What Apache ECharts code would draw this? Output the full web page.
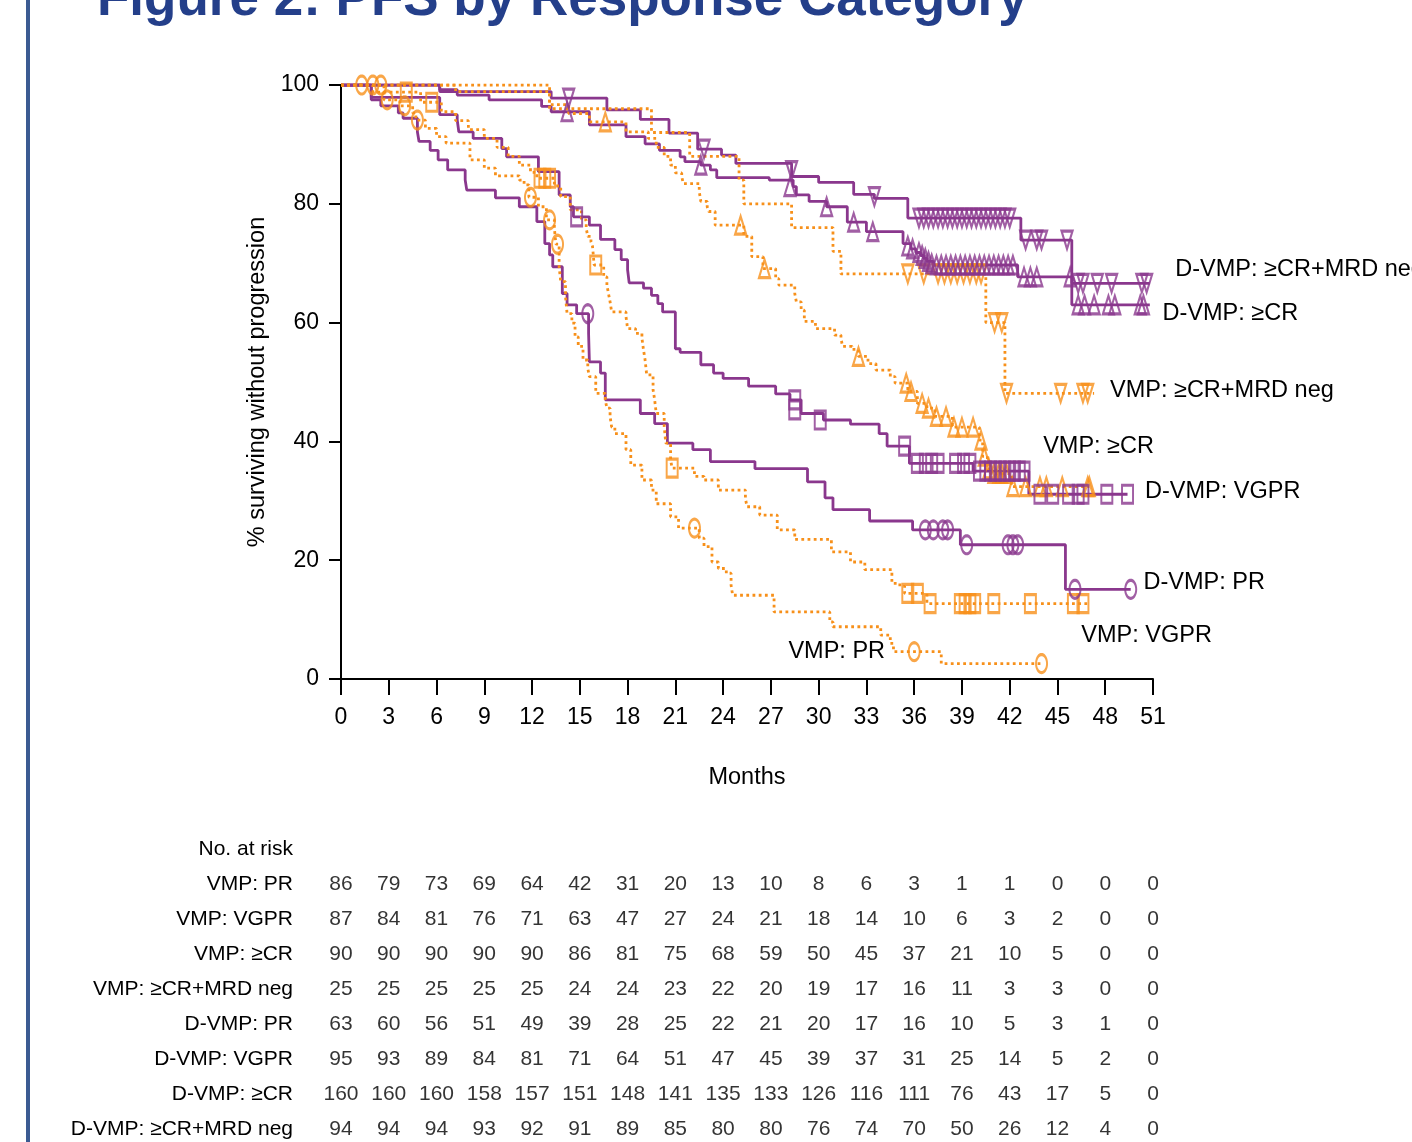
<!DOCTYPE html>
<html><head><meta charset="utf-8">
<script src="https://cdn.jsdelivr.net/npm/echarts/dist/echarts.min.js"></script>
<style>html,body{margin:0;padding:0;background:#fff}#c{width:1412px;height:1142px}</style>
</head><body><div id="c"></div>
<script>
// ---------- data ----------
const xTicks = [0,3,6,9,12,15,18,21,24,27,30,33,36,39,42,45,48,51];
const yTicks = [0,20,40,60,80,100];

// Kaplan-Meier steps: [month, % surviving]
const vmpPrSteps = [[0,100],[2.7,97.5],[3.7,96.5],[4.5,95.3],[4.7,94.1],[5.3,92.7],[6.0,91.3],[6.6,90.2],[8.1,87.4],[9.0,86.0],[9.7,84.7],[11.2,84.0],[11.5,83.2],[11.8,81.1],[12.4,79.5],[12.9,77.3],[13.4,75.9],[13.5,73.2],[13.7,69.4],[13.8,66.9],[14.1,64.4],[14.2,61.5],[14.5,59.9],[14.7,57.6],[14.9,56.0],[15.2,53.7],[15.5,52.3],[15.6,50.9],[16.0,48.1],[16.6,47.0],[16.7,45.6],[16.9,44.2],[17.0,42.4],[17.2,41.3],[17.9,38.6],[18.2,36.0],[18.9,33.5],[19.5,31.8],[19.8,29.5],[20.7,27.3],[21.2,25.4],[22.5,23.7],[22.8,22.3],[23.3,19.7],[23.7,18.6],[24.2,17.8],[24.5,15.8],[24.6,14.1],[27.2,11.3],[30.7,9.6],[30.9,8.8],[33.9,7.4],[34.5,6.0],[34.7,4.6],[37.7,2.6],[44.0,2.6]];
const vmpPrCens = [[1.3,100],[2.0,100],[2.5,100],[2.9,97.5],[4.0,96.5],[4.8,94.1],[11.9,81.1],[13.1,77.3],[13.6,73.2],[22.2,25.4],[36.0,4.6],[44.0,2.6]];

const vmpVgprSteps = [[0,100],[2.0,98.8],[5.0,97.1],[6.3,95.5],[7.2,94.0],[8.0,92.5],[9.0,91.0],[9.8,89.5],[10.5,88.0],[11.2,86.5],[11.9,85.3],[12.3,84.3],[13.4,83.0],[13.8,81.2],[14.4,79.0],[15.1,77.3],[15.4,75.9],[15.5,74.5],[15.7,73.6],[15.8,72.8],[15.9,69.7],[16.5,67.7],[16.7,66.3],[16.8,64.9],[16.9,63.5],[17.0,61.8],[17.9,61.0],[18.0,59.0],[18.5,58.2],[18.9,57.4],[19.0,55.4],[19.1,53.7],[19.2,51.2],[19.6,48.7],[19.7,47.0],[19.8,44.7],[20.3,42.5],[20.4,39.7],[20.7,36.9],[20.8,35.5],[22.2,34.1],[22.8,33.5],[23.7,31.8],[25.4,30.4],[25.5,29.0],[26.3,27.6],[27.4,25.1],[28.5,23.5],[30.8,21.4],[32.0,19.7],[32.9,18.4],[34.6,16.1],[35.1,15.6],[35.4,14.4],[36.8,12.7],[46.9,12.7]];
const vmpVgprCens = [[4.1,98.8],[5.7,97.1],[12.5,84.3],[12.8,84.3],[13.1,84.3],[16.0,69.7],[20.8,35.5],[35.6,14.4],[36.2,14.4],[37.0,12.7],[38.9,12.7],[39.2,12.7],[39.5,12.7],[39.8,12.7],[41.0,12.7],[43.3,12.7],[46.0,12.7],[46.6,12.7]];

const vmpCrSteps = [[0,100],[7.2,98.9],[13.1,96.7],[14.3,95.2],[15.6,93.8],[17.9,92.1],[19.3,91.0],[19.8,89.5],[20.3,88.0],[20.7,86.5],[21.0,85.2],[21.4,84.6],[21.5,83.4],[22.5,82.1],[22.6,80.4],[23.0,79.5],[23.1,78.7],[23.5,76.4],[25.3,74.5],[25.8,71.1],[26.5,69.1],[27.3,67.4],[27.5,66.3],[28.5,64.9],[28.6,63.5],[28.9,62.1],[29.1,60.2],[29.8,59.0],[31.0,57.9],[31.4,57.4],[31.5,56.0],[32.1,55.5],[32.5,54.3],[33.1,53.1],[33.6,52.0],[34.5,50.9],[34.8,49.8],[35.6,48.4],[36.2,46.4],[36.8,45.6],[37.3,44.2],[38.4,42.4],[40.1,40.2],[40.3,37.5],[40.6,35.4],[40.8,34.6],[42.1,32.4],[47.0,32.4]];
const vmpCrCens = [[16.6,93.8],[25.1,76.4],[26.6,69.1],[32.5,54.3],[35.5,49.8],[35.8,48.4],[36.5,46.4],[36.9,45.6],[37.4,44.2],[38.0,44.2],[38.5,42.4],[39.0,42.4],[39.7,42.4],[40.2,40.2],[40.4,37.5],[40.7,35.4],[41.0,34.6],[41.3,34.6],[41.5,34.6],[41.8,34.6],[42.2,32.4],[43.0,32.4],[43.9,32.4],[44.3,32.4],[45.3,32.4],[46.9,32.4],[47.0,32.4]];

const vmpMrdSteps = [[0,100],[13.1,96],[19.5,92],[21.9,88],[25.0,84],[25.3,80],[28.3,76],[30.9,72],[31.4,68.2],[40.5,60],[41.7,48.1],[47.3,48.1]];
const vmpMrdCens = [[35.6,68.2],[36.6,68.2],[37.5,68.2],[37.9,68.2],[38.3,68.2],[38.7,68.2],[39.1,68.2],[39.5,68.2],[39.9,68.2],[40.2,68.2],[41.05,60],[41.5,60],[41.8,48.1],[45.2,48.1],[46.6,48.1],[46.9,48.1]];

const dvmpPrSteps = [[0,100],[1.9,97.5],[2.5,96.5],[3.6,95.3],[3.9,94.4],[4.8,92.1],[4.9,90.5],[5.6,89.0],[6.1,87.4],[6.7,85.7],[7.8,84.0],[7.9,82.3],[9.7,81.0],[11.2,79.5],[12.3,77.0],[12.8,73.3],[13.1,71.4],[13.3,69.4],[13.9,64.9],[14.2,63.0],[14.8,61.5],[15.55,58.2],[15.6,53.4],[16.3,51.5],[16.6,47.0],[18.8,44.7],[19.7,43.0],[20.5,39.7],[22.1,38.6],[23.2,36.6],[26.0,35.4],[29.3,33.2],[30.4,30.5],[30.9,28.5],[33.2,26.6],[35.9,25.1],[38.9,22.6],[45.5,15.1],[49.6,15.1]];
const dvmpPrCens = [[15.5,61.5],[36.7,25.1],[37.2,25.1],[37.8,25.1],[38.1,25.1],[39.3,22.6],[41.9,22.6],[42.2,22.6],[42.5,22.6],[46.1,15.1],[49.6,15.1]];

const dvmpVgprSteps = [[0,100],[1.9,97.9],[6.2,95.0],[7.3,94.1],[7.4,92.1],[8.3,91.0],[10.1,89.3],[10.4,87.9],[12.4,85.4],[13.7,81.5],[14.4,79.5],[14.6,77.8],[15.6,76.4],[16.3,74.0],[17.2,72.3],[17.6,70.6],[18.0,68.9],[18.1,66.7],[19.0,65.8],[19.5,64.6],[19.9,63.2],[20.2,61.8],[21.0,55.6],[21.3,55.0],[22.6,52.9],[23.4,51.5],[24.0,50.6],[25.6,49.3],[27.3,48.0],[28.2,47.0],[28.9,44.7],[30.3,43.6],[32.0,42.9],[33.8,41.3],[34.3,39.2],[35.7,36.3],[39.7,35.0],[43.2,31.1],[49.4,31.1]];
const dvmpVgprCens = [[14.8,77.8],[28.5,47.0],[28.5,45.3],[30.1,43.6],[35.4,39.2],[36.2,36.3],[36.7,36.3],[37.1,36.3],[37.5,36.3],[38.6,36.3],[39.1,36.3],[39.5,36.3],[40.1,35],[40.5,35],[40.8,35],[41.1,35],[41.4,35],[41.7,35],[42.0,35],[42.3,35],[42.6,35],[42.9,35],[43.9,31.1],[44.7,31.1],[45.7,31.1],[46.3,31.1],[46.6,31.1],[48.1,31.1],[49.4,31.1]];

const dvmpCrSteps = [[0,100],[6.2,99.2],[7.3,98.3],[9.3,97.5],[12.6,96.4],[13.2,95.5],[15.6,93.3],[17.9,91.3],[19.1,90.1],[20.0,89.0],[21.3,87.9],[21.6,87.1],[22.6,86.5],[23.2,85.7],[23.6,84.4],[26.9,84.0],[28.4,82.9],[28.6,81.5],[29.4,80.4],[30.5,79.5],[31.8,76.9],[33.0,75.3],[35.3,73.3],[35.8,72.4],[36.1,71.8],[36.4,71.3],[36.6,70.8],[36.8,70.3],[37.2,69.7],[42.5,67.7],[45.9,63.0],[50.8,63.0]];
const dvmpCrCens = [[14.2,95.5],[22.6,86.5],[28.2,82.9],[30.5,79.5],[32.2,76.9],[33.4,75.3],[35.6,72.9],[35.9,72.4],[36.3,71.8],[36.5,71.3],[36.7,70.8],[36.9,70.3],[37.1,69.9],[37.4,69.7],[37.7,69.7],[38.0,69.7],[38.3,69.7],[38.6,69.7],[38.9,69.7],[39.2,69.7],[39.5,69.7],[39.8,69.7],[40.1,69.7],[40.4,69.7],[40.7,69.7],[41.0,69.7],[41.3,69.7],[41.6,69.7],[41.9,69.7],[42.2,69.7],[42.9,67.7],[43.3,67.7],[43.7,67.7],[45.8,67.7],[46.3,63.0],[46.7,63.0],[47.3,63.0],[48.2,63.0],[48.6,63.0],[50.2,63.0],[50.4,63.0]];

const dvmpMrdSteps = [[0,100],[6.2,98.9],[13.2,97.8],[16.7,95.8],[18.8,94.2],[20.6,91.9],[22.4,89.2],[23.9,88.2],[24.8,86.8],[28.3,84.6],[30.0,83.6],[32.2,81.6],[33.5,80.9],[35.6,77.6],[42.7,73.9],[45.9,66.6],[50.8,66.6]];
const dvmpMrdCens = [[14.3,97.8],[22.8,89.2],[28.3,85.6],[33.5,81.2],[36.3,77.6],[36.6,77.6],[36.9,77.6],[37.2,77.6],[37.5,77.6],[37.8,77.6],[38.1,77.6],[38.4,77.6],[38.7,77.6],[39.0,77.6],[39.3,77.6],[39.6,77.6],[39.9,77.6],[40.2,77.6],[40.5,77.6],[40.8,77.6],[41.1,77.6],[41.4,77.6],[41.7,77.6],[42.0,77.6],[43.0,73.9],[43.7,73.9],[44.0,73.9],[45.6,73.9],[46.3,66.6],[46.6,66.6],[47.5,66.6],[48.4,66.6],[50.3,66.6],[50.6,66.6]];

// Curve labels: [text, month, %]
const curveLabels = [
  ['D-VMP: \u2265CR+MRD neg', 52.4, 68.9],
  ['D-VMP: \u2265CR', 51.6, 61.6],
  ['VMP: \u2265CR+MRD neg', 48.3, 48.5],
  ['VMP: \u2265CR', 44.1, 39.2],
  ['D-VMP: VGPR', 50.5, 31.6],
  ['D-VMP: PR', 50.4, 16.3],
  ['VMP: VGPR', 46.5, 7.4],
  ['VMP: PR', 28.1, 4.7]
];

// Number at risk table
const riskRows = ['No. at risk','VMP: PR','VMP: VGPR','VMP: \u2265CR','VMP: \u2265CR+MRD neg','D-VMP: PR','D-VMP: VGPR','D-VMP: \u2265CR','D-VMP: \u2265CR+MRD neg'];
const riskVmpPr   = [86,79,73,69,64,42,31,20,13,10,8,6,3,1,1,0,0,0];
const riskVmpVgpr = [87,84,81,76,71,63,47,27,24,21,18,14,10,6,3,2,0,0];
const riskVmpCr   = [90,90,90,90,90,86,81,75,68,59,50,45,37,21,10,5,0,0];
const riskVmpMrd  = [25,25,25,25,25,24,24,23,22,20,19,17,16,11,3,3,0,0];
const riskDvmpPr  = [63,60,56,51,49,39,28,25,22,21,20,17,16,10,5,3,1,0];
const riskDvmpVgpr= [95,93,89,84,81,71,64,51,47,45,39,37,31,25,14,5,2,0];
const riskDvmpCr  = [160,160,160,158,157,151,148,141,135,133,126,116,111,76,43,17,5,0];
const riskDvmpMrd = [94,94,94,93,92,91,89,85,80,80,76,74,70,50,26,12,4,0];

// ---------- styling ----------
const PURPLE = '#8A378D', ORANGE = '#F7901A', FONT = '"Liberation Sans", Arial, Helvetica, sans-serif';
let ell = 'path://';
for (let i = 0; i <= 36; i++) { const a = i / 36 * Math.PI * 2; ell += (i ? 'L' : 'M') + (50 + 50 * Math.cos(a)).toFixed(2) + ',' + (50 + 50 * Math.sin(a)).toFixed(2); }
ell += 'Z';

function stepLine(data, color, dotted) {
  return { type: 'line', data, step: 'end', symbol: 'none', showSymbol: false, silent: true, animation: false,
    z: dotted ? 3 : 2, lineStyle: { color, width: dotted ? 2.8 : 2.8, type: dotted ? [2.8, 3.4] : 'solid', cap: 'butt' } };
}
function cens(data, color, symbol, rotate) {
  return { type: 'scatter', data, symbol, symbolSize: [11, 18], symbolRotate: rotate || 0, silent: true, animation: false, z: 4,
    itemStyle: { color: 'rgba(0,0,0,0)', borderColor: color, borderWidth: 2.5 } };
}

const riskSets = [riskVmpPr, riskVmpVgpr, riskVmpCr, riskVmpMrd, riskDvmpPr, riskDvmpVgpr, riskDvmpCr, riskDvmpMrd];
const tableData = [];
riskSets.forEach((arr, r) => arr.forEach((v, c) => tableData.push([xTicks[c], r + 1, v])));

const chart = echarts.init(document.getElementById('c'), null, { renderer: 'canvas' });
const axisCol = '#000';
chart.setOption({
  backgroundColor: '#fff',
  animation: false,
  grid: [
    { left: 341, top: 85, width: 812, height: 594, containLabel: false },
    { left: 341, top: 849, width: 812, height: 280, containLabel: false }
  ],
  xAxis: [
    { type: 'value', gridIndex: 0, min: 0, max: 51, interval: 3,
      axisLine: { onZero: false, lineStyle: { color: axisCol, width: 2 } },
      axisTick: { length: 16, lineStyle: { color: axisCol, width: 2 } },
      axisLabel: { color: '#000', fontSize: 23, fontFamily: FONT, margin: 27 },
      splitLine: { show: false },
      name: 'Months', nameLocation: 'middle', nameGap: 87, nameTextStyle: { color: '#000', fontSize: 23.5, fontFamily: FONT } },
    { type: 'value', gridIndex: 1, min: 0, max: 51, interval: 3, show: false }
  ],
  yAxis: [
    { type: 'value', gridIndex: 0, min: 0, max: 100, interval: 20,
      axisLine: { show: true, onZero: false, lineStyle: { color: axisCol, width: 2 } },
      axisTick: { show: true, length: 12, lineStyle: { color: axisCol, width: 2 } },
      axisLabel: { color: '#000', fontSize: 23, fontFamily: FONT, margin: 22 },
      splitLine: { show: false },
      name: '% surviving without progression', nameLocation: 'middle', nameGap: 69, nameRotate: 90,
      nameTextStyle: { color: '#000', fontSize: 23.5, fontFamily: FONT } },
    { type: 'value', gridIndex: 1, min: 0, max: 8, interval: 1, inverse: true,
      axisLine: { show: false }, axisTick: { show: false }, splitLine: { show: false },
      axisLabel: { color: '#000', fontSize: 21, fontFamily: FONT, margin: 48, formatter: v => riskRows[v] || '' } }
  ],
  series: [
    stepLine(vmpPrSteps, ORANGE, true),
    stepLine(vmpVgprSteps, ORANGE, true),
    stepLine(vmpCrSteps, ORANGE, true),
    stepLine(vmpMrdSteps, ORANGE, true),
    stepLine(dvmpPrSteps, PURPLE, false),
    stepLine(dvmpVgprSteps, PURPLE, false),
    stepLine(dvmpCrSteps, PURPLE, false),
    stepLine(dvmpMrdSteps, PURPLE, false),
    cens(vmpPrCens, ORANGE, ell),
    cens(vmpVgprCens, ORANGE, 'rect'),
    cens(vmpCrCens, ORANGE, 'triangle'),
    cens(vmpMrdCens, ORANGE, 'triangle', 180),
    cens(dvmpPrCens, PURPLE, ell),
    cens(dvmpVgprCens, PURPLE, 'rect'),
    cens(dvmpCrCens, PURPLE, 'triangle'),
    cens(dvmpMrdCens, PURPLE, 'triangle', 180),
    { type: 'scatter', xAxisIndex: 1, yAxisIndex: 1, data: tableData, symbolSize: 1, silent: true,
      itemStyle: { color: 'rgba(0,0,0,0)' },
      label: { show: true, position: 'inside', formatter: p => String(p.value[2]), color: '#000', fontSize: 21, fontFamily: FONT } }
  ]
});

const g = [
  { type: 'rect', shape: { x: 26, y: 0, width: 4, height: 1142 }, style: { fill: '#3b5b92' }, z: 10 },
  { type: 'text', x: 97, y: 27, style: { text: 'Figure 2: PFS by Response Category', font: 'bold 53px ' + FONT, fill: '#243f8a', textVerticalAlign: 'bottom', verticalAlign: 'bottom' }, z: 10 }
];
curveLabels.forEach(([t, mx, my]) => {
  const p = chart.convertToPixel({ gridIndex: 0 }, [mx, my]);
  g.push({ type: 'text', x: p[0], y: p[1], style: { text: t, font: '23.5px ' + FONT, fill: '#000', verticalAlign: 'middle', textVerticalAlign: 'middle' }, z: 10 });
});
chart.setOption({ graphic: g });
</script>
</body></html>
